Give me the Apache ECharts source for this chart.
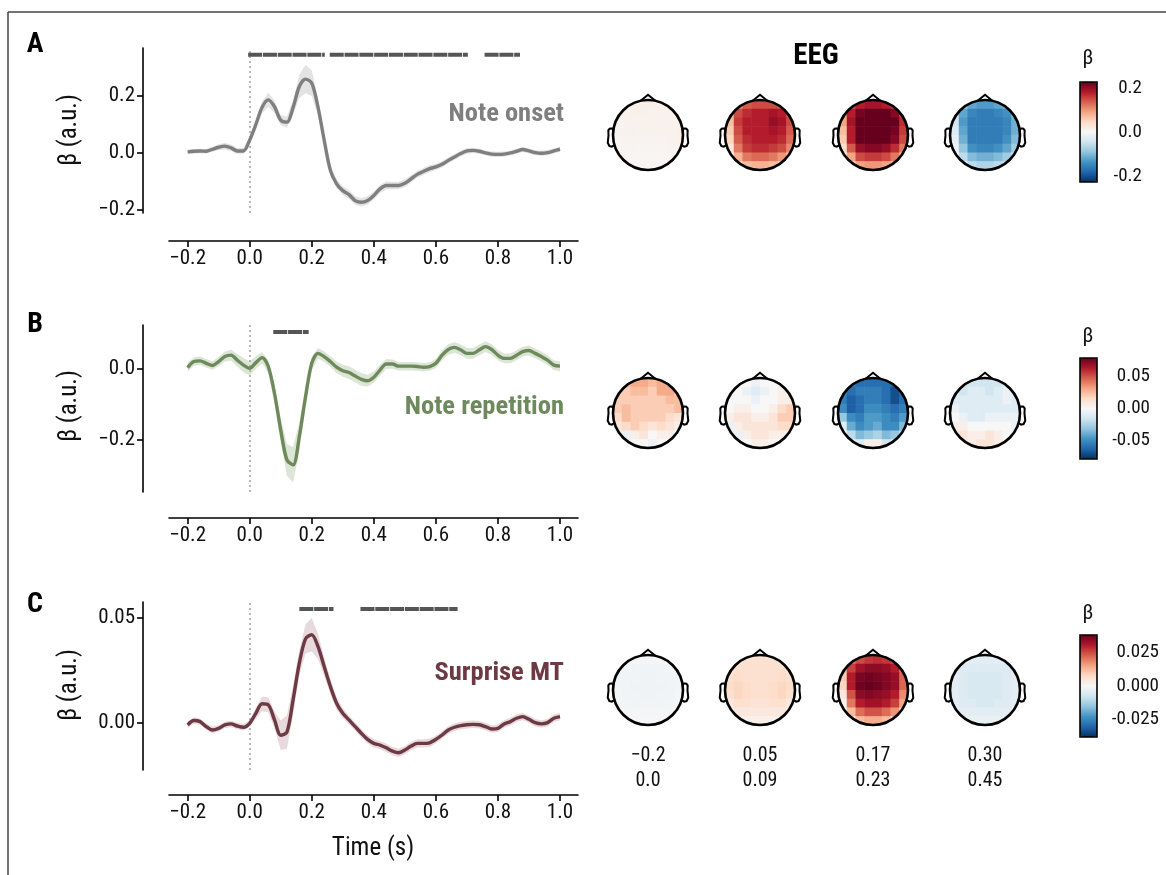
<!DOCTYPE html>
<html><head><meta charset="utf-8">
<script src="https://cdn.jsdelivr.net/npm/echarts@6/dist/echarts.min.js"></script>
<style>html,body{margin:0;padding:0;background:#fff}#c{width:1166px;height:875px}</style>
</head><body><div id="c"></div>
<script>
const FONT = "'Roboto Condensed','Liberation Sans Narrow','DejaVu Sans Condensed',Roboto,sans-serif";

// ---------- time courses ----------
const times = [-0.2,-0.18,-0.16,-0.14,-0.12,-0.1,-0.08,-0.06,-0.04,-0.02,
  0,0.02,0.04,0.06,0.08,0.1,0.12,0.14,0.16,0.18,
  0.2,0.22,0.24,0.26,0.28,0.3,0.32,0.34,0.36,0.38,
  0.4,0.42,0.44,0.46,0.48,0.5,0.52,0.54,0.56,0.58,
  0.6,0.62,0.64,0.66,0.68,0.7,0.72,0.74,0.76,0.78,
  0.8,0.82,0.84,0.86,0.88,0.9,0.92,0.94,0.96,0.98,1.0];
const xTicks = [-0.2,0,0.2,0.4,0.6,0.8,1.0];

const onsetMean = [.004,.006,.007,.006,.013,.020,.024,.018,.007,.007,
  .045,.100,.160,.186,.162,.115,.108,.160,.233,.259,
  .245,.162,.045,-.061,-.108,-.132,-.146,-.167,-.173,-.167,
  -.149,-.126,-.114,-.114,-.114,-.106,-.091,-.075,-.065,-.055,
  -.049,-.040,-.026,-.014,-.002,.007,.009,.006,.000,-.004,
  -.005,-.004,.000,.006,.012,.007,.001,-.001,.001,.007,.013];
const onsetErr = [.008,.008,.008,.008,.009,.010,.012,.012,.010,.010,
  .012,.015,.020,.025,.022,.018,.020,.025,.040,.050,
  .045,.030,.020,.018,.016,.015,.015,.015,.015,.015,
  .014,.014,.014,.013,.013,.013,.013,.012,.012,.012,
  .011,.011,.010,.010,.010,.010,.009,.009,.009,.009,
  .009,.009,.009,.009,.009,.009,.009,.009,.009,.009,.009];
const onsetSig = [[-0.005,0.242],[0.258,0.703],[0.757,0.871]];
const onsetYTicks = [-0.2,0,0.2];

const repMean = [.004,.021,.023,.016,.010,.021,.035,.039,.025,.011,
  .002,.018,.032,.007,-.069,-.172,-.256,-.270,-.190,-.078,
  .016,.044,.035,.021,.005,-.005,-.010,-.020,-.029,-.033,
  -.023,-.003,.014,.014,.008,.008,.008,.007,.005,.007,
  .016,.039,.055,.061,.054,.044,.044,.054,.063,.055,
  .039,.030,.030,.039,.049,.052,.044,.035,.025,.011,.008];
const repErr = [.012,.012,.012,.012,.012,.013,.014,.015,.018,.020,
  .020,.018,.016,.018,.025,.035,.045,.050,.040,.025,
  .018,.015,.015,.015,.016,.017,.018,.018,.018,.017,
  .016,.015,.014,.013,.012,.012,.012,.012,.012,.012,
  .013,.014,.015,.015,.015,.015,.015,.015,.015,.015,
  .015,.014,.014,.014,.014,.014,.014,.014,.014,.014,.014];
const repSig = [[0.076,0.19]];
const repYTicks = [-0.2,0];

const surMean = [-.0011,.0010,.0005,-.0019,-.0035,-.0027,-.0011,-.0006,-.0016,-.0022,
  -.0003,.0045,.0090,.0085,.0013,-.0060,-.0045,.0110,.0284,.0400,
  .0420,.0364,.0268,.0173,.0093,.0045,.0013,-.0019,-.0051,-.0080,
  -.0099,-.0107,-.0120,-.0136,-.0144,-.0131,-.0112,-.0099,-.0099,-.0096,
  -.0080,-.0059,-.0035,-.0022,-.0014,-.0010,-.0008,-.0010,-.0019,-.0030,
  -.0027,-.0006,.0005,.0021,.0029,.0016,.0000,-.0006,.0000,.0021,.0029];
const surErr = [.0015,.0015,.0015,.0015,.0015,.0015,.0015,.0015,.0015,.0015,
  .0015,.0025,.0035,.0035,.0040,.0070,.0080,.0070,.0060,.0070,
  .0080,.0060,.0045,.0035,.0030,.0025,.0020,.0020,.0020,.0020,
  .0020,.0020,.0020,.0020,.0020,.0020,.0020,.0020,.0020,.0020,
  .0018,.0018,.0018,.0018,.0018,.0018,.0018,.0018,.0018,.0018,
  .0018,.0018,.0018,.0018,.0018,.0018,.0018,.0018,.0018,.0018,.0018];
const surSig = [[0.16,0.27],[0.357,0.67]];
const surYTicks = [0,0.05];

// ---------- topographies (8x8, front row first) ----------
const topoA1 = [[.010,.010,.012,.012,.012,.010,.010,.008],[.008,.010,.012,.012,.010,.010,.010,.008],[.006,.008,.010,.010,.010,.008,.010,.010],[.006,.008,.008,.008,.008,.008,.010,.012],[.005,.006,.006,.006,.006,.006,.008,.010],[.004,.005,.005,.005,.005,.005,.006,.006],[.003,.004,.004,.004,.004,.004,.004,.004],[.002,.003,.003,.003,.003,.003,.003,.003]];
const topoA2 = [[.07,.11,.14,.15,.15,.15,.14,.10],[.08,.15,.17,.18,.18,.19,.18,.14],[.07,.16,.18,.18,.18,.20,.19,.15],[.06,.15,.18,.18,.18,.19,.18,.14],[.05,.14,.17,.18,.18,.18,.17,.13],[.03,.12,.16,.17,.17,.16,.15,.11],[.02,.08,.12,.13,.13,.12,.10,.07],[.01,.04,.07,.08,.08,.07,.05,.03]];
const topoA3 = [[.10,.15,.18,.19,.19,.18,.16,.13],[.10,.18,.22,.23,.23,.23,.21,.16],[.09,.19,.24,.25,.25,.25,.23,.17],[.07,.18,.24,.25,.25,.24,.22,.16],[.06,.18,.23,.24,.24,.23,.21,.15],[.04,.14,.20,.21,.21,.20,.17,.12],[.02,.09,.15,.16,.16,.15,.12,.08],[.01,.05,.09,.10,.10,.09,.07,.04]];
const topoA4 = [[-.05,-.09,-.12,-.13,-.13,-.12,-.11,-.08],[-.05,-.12,-.15,-.16,-.16,-.15,-.14,-.10],[-.04,-.13,-.16,-.16,-.16,-.16,-.15,-.11],[-.03,-.12,-.16,-.16,-.16,-.16,-.15,-.11],[-.02,-.11,-.16,-.16,-.16,-.16,-.14,-.10],[-.01,-.09,-.14,-.15,-.15,-.14,-.12,-.08],[.00,-.06,-.10,-.11,-.11,-.10,-.08,-.05],[.00,-.03,-.06,-.07,-.07,-.06,-.04,-.02]];
const topoB1 = [[.02,.025,.03,.03,.025,.03,.03,.02],[.02,.02,.025,.025,.02,.03,.03,.02],[.02,.02,.02,.02,.02,.02,.025,.025],[.02,.025,.02,.02,.02,.02,.02,.025],[.015,.025,.02,.02,.02,.02,.015,.01],[.01,.015,.02,.015,.01,.015,.01,.005],[-.01,-.005,.005,.01,.0,.005,.005,.0],[-.01,-.01,.0,.0,-.005,.0,.0,.0]];
const topoB2 = [[.0,.0,.0,-.005,.0,.0,.0,.0],[.0,.0,-.005,-.01,-.005,.0,.005,.0],[.0,.0,.0,-.005,.0,.0,.005,.005],[.0,.005,.005,.0,.0,.005,.015,.02],[.005,.01,.01,.005,.005,.01,.02,.02],[-.005,.005,.01,.01,.01,.01,.015,.015],[-.01,-.005,.005,.01,.01,.005,.005,.005],[-.005,-.005,.0,.005,.005,.0,.0,.0]];
const topoB3 = [[-.05,-.055,-.06,-.06,-.06,-.06,-.06,-.05],[-.05,-.06,-.055,-.055,-.055,-.06,-.07,-.06],[-.055,-.065,-.06,-.055,-.055,-.06,-.07,-.06],[-.05,-.065,-.06,-.05,-.05,-.055,-.06,-.055],[-.03,-.05,-.055,-.045,-.045,-.05,-.055,-.045],[-.01,-.04,-.05,-.045,-.04,-.05,-.05,-.035],[.0,-.02,-.035,-.03,-.025,-.035,-.03,-.02],[.0,-.005,-.01,.005,.005,-.015,-.015,-.01]];
const topoB4 = [[-.01,-.015,-.015,-.015,-.015,-.015,-.01,-.01],[-.01,-.015,-.01,-.01,-.015,-.01,-.005,-.01],[-.01,-.01,-.01,-.01,-.01,-.01,-.005,-.01],[-.005,-.01,-.01,-.01,-.01,-.01,-.01,-.01],[.0,-.005,-.01,-.01,-.005,-.005,-.005,-.005],[.005,.005,.0,.0,.0,.0,.0,-.005],[.01,.01,.005,.005,.01,.005,.0,.0],[.005,.01,.005,.01,.01,.005,.0,.0]];
const topoC1 = [[-.0008,-.0008,-.0008,-.0008,-.0008,-.0008,-.0008,-.0008],[-.0010,-.0010,-.0012,-.0012,-.0012,-.0012,-.0010,-.0010],[-.0010,-.0012,-.0014,-.0015,-.0015,-.0014,-.0012,-.0010],[-.0010,-.0012,-.0015,-.0016,-.0016,-.0015,-.0012,-.0010],[-.0008,-.0012,-.0014,-.0015,-.0015,-.0014,-.0012,-.0008],[-.0006,-.0010,-.0012,-.0012,-.0012,-.0012,-.0010,-.0006],[-.0004,-.0006,-.0008,-.0008,-.0008,-.0008,-.0006,-.0004],[-.0002,-.0004,-.0005,-.0005,-.0005,-.0005,-.0004,-.0002]];
const topoC2 = [[.004,.005,.006,.006,.006,.006,.005,.004],[.005,.006,.006,.006,.006,.006,.006,.005],[.006,.007,.006,.006,.006,.006,.007,.006],[.007,.008,.007,.006,.006,.007,.008,.007],[.006,.008,.007,.006,.006,.007,.008,.006],[.004,.006,.006,.005,.005,.006,.006,.004],[.002,.004,.004,.004,.004,.004,.004,.002],[.001,.002,.002,.002,.002,.002,.002,.001]];
const topoC3 = [[.012,.020,.025,.027,.028,.027,.024,.016],[.012,.026,.032,.034,.034,.033,.030,.020],[.010,.030,.036,.037,.036,.035,.033,.022],[.008,.030,.037,.038,.037,.035,.033,.022],[.004,.024,.034,.035,.034,.033,.030,.018],[.002,.020,.030,.032,.032,.030,.026,.015],[.000,.012,.021,.024,.024,.021,.017,.009],[.000,.005,.012,.014,.014,.012,.008,.003]];
const topoC4 = [[-.003,-.004,-.004,-.004,-.004,-.004,-.004,-.003],[-.004,-.005,-.005,-.005,-.005,-.005,-.005,-.004],[-.004,-.005,-.006,-.006,-.006,-.006,-.005,-.004],[-.004,-.005,-.006,-.006,-.006,-.006,-.005,-.004],[-.004,-.005,-.006,-.006,-.006,-.006,-.005,-.004],[-.004,-.005,-.005,-.006,-.006,-.005,-.005,-.004],[-.003,-.004,-.004,-.004,-.004,-.004,-.004,-.003],[-.002,-.003,-.003,-.003,-.003,-.003,-.003,-.002]];

const topoWindows = ['\u22120.2\n0.0','0.05\n0.09','0.17\n0.23','0.30\n0.45'];
const cbTicksA = [-0.2,0,0.2];
const cbTicksB = [-0.05,0,0.05];
const cbTicksC = [-0.025,0,0.025];

const RDBU_R = ['#053061','#2166ac','#4393c3','#92c5de','#d1e5f0','#f7f7f7','#fddbc7','#f4a582','#d6604d','#b2182b','#67001f'];

// ---------- layout ----------
const rows = [
  {label:'Note onset', color:'#7f7f7f', band:'#e3e3e3', mean:onsetMean, err:onsetErr, sig:onsetSig, yTicks:onsetYTicks, dec:1,
   ymin:-0.2105, ymax:0.368, top:48, height:165, xOff:28, sigY:0.344, labelY:114, letter:'A', letterY:45, ylabY:130,
   topos:[topoA1,topoA2,topoA3,topoA4], vmax:0.228, cbTicks:cbTicksA, cbDec:1, headY:135, cbTop:82, cbH:100, betaY:59},
  {label:'Note repetition', color:'#6e8a5c', band:'#dce6d6', mean:repMean, err:repErr, sig:repSig, yTicks:repYTicks, dec:1,
   ymin:-0.3465, ymax:0.124, top:325, height:167, xOff:26, sigY:0.104, labelY:407, letter:'B', letterY:325, ylabY:406,
   topos:[topoB1,topoB2,topoB3,topoB4], vmax:0.079, cbTicks:cbTicksB, cbDec:2, headY:413, cbTop:358, cbH:101, betaY:337},
  {label:'Surprise MT', color:'#6d3944', band:'#e8d9dc', mean:surMean, err:surErr, sig:surSig, yTicks:surYTicks, dec:2,
   ymin:-0.0226, ymax:0.0576, top:602, height:168, xOff:25, sigY:0.0543, labelY:673, letter:'C', letterY:605, ylabY:685,
   topos:[topoC1,topoC2,topoC3,topoC4], vmax:0.0378, cbTicks:cbTicksC, cbDec:3, headY:690, cbTop:635, cbH:102, betaY:614}
];
const headX = [648, 760, 873, 985];
const HR = 35;
const N = 8;

const fmtMinus = (v, d) => (v < 0 ? '\u2212' : '') + Math.abs(v).toFixed(d);

const grid = [], xAxis = [], yAxis = [], series = [], visualMap = [], graphic = [];

rows.forEach((R, ri) => {
  // line plot grid
  const gi = grid.length;
  grid.push({left:169, top:R.top, width:409, height:R.height});
  xAxis.push({type:'value', gridIndex:gi, min:-0.26, max:1.058, offset:R.xOff,
    axisLine:{show:true, onZero:false, lineStyle:{color:'#000', width:1.6}},
    axisTick:{show:true, customValues:xTicks, length:6, lineStyle:{color:'#000', width:1.6}},
    axisLabel:{customValues:xTicks, formatter:v => fmtMinus(v,1), fontFamily:FONT, fontSize:21, color:'#111', margin:7},
    splitLine:{show:false}});
  yAxis.push({type:'value', gridIndex:gi, min:R.ymin, max:R.ymax, offset:26,
    axisLine:{show:true, onZero:false, lineStyle:{color:'#000', width:1.6}},
    axisTick:{show:true, customValues:R.yTicks, length:6, lineStyle:{color:'#000', width:1.6}},
    axisLabel:{customValues:R.yTicks, formatter:v => fmtMinus(v,R.dec), fontFamily:FONT, fontSize:21, color:'#111', margin:8},
    splitLine:{show:false}});
  // CI band
  series.push({type:'custom', xAxisIndex:gi, yAxisIndex:gi, z:1, silent:true,
    data: times.map((t,k) => [t, R.mean[k]-R.err[k], R.mean[k]+R.err[k]]),
    renderItem: (params, api) => {
      if (params.dataIndexInside !== 0) return null;
      const n = params.dataInsideLength, up = [], dn = [];
      for (let k = 0; k < n; k++) {
        const t = api.value(0, k);
        up.push(api.coord([t, api.value(2, k)]));
        dn.push(api.coord([t, api.value(1, k)]));
      }
      return {type:'polygon', shape:{points: up.concat(dn.reverse())}, style:{fill:R.band}};
    }});
  // mean line
  series.push({type:'line', xAxisIndex:gi, yAxisIndex:gi, z:3, symbol:'none', smooth:0.3, silent:true,
    data: times.map((t,k) => [t, R.mean[k]]),
    lineStyle:{color:R.color, width:3.4},
    markLine:{silent:true, symbol:'none', label:{show:false}, z:2,
      lineStyle:{type:[2,3], color:'#a8a8a8', width:1.6}, data:[{xAxis:0}]}});
  // significance bars
  series.push({type:'custom', xAxisIndex:gi, yAxisIndex:gi, z:4, silent:true,
    data: R.sig.map(s => [s[0], s[1]]),
    renderItem: (params, api) => {
      const p0 = api.coord([api.value(0), R.sigY]), p1 = api.coord([api.value(1), R.sigY]);
      return {type:'line', shape:{x1:p0[0], y1:p0[1], x2:p1[0], y2:p1[1]},
        style:{stroke:'#555', lineWidth:4, lineDash:[14,0.8]}};
    }});

  // topographies
  const cellSeries = [];
  R.topos.forEach((topo, k) => {
    const tg = grid.length;
    grid.push({left:headX[k]-HR, top:R.headY-HR, width:2*HR, height:2*HR});
    xAxis.push({type:'value', gridIndex:tg, min:0, max:N, show:false});
    yAxis.push({type:'value', gridIndex:tg, min:0, max:N, inverse:true, show:false});
    const cells = [];
    topo.forEach((row, r) => row.forEach((v, c) => {
      const dx = Math.max(Math.abs(c+0.5-N/2)-0.5, 0), dy = Math.max(Math.abs(r+0.5-N/2)-0.5, 0);
      if (dx*dx + dy*dy < (N/2)*(N/2)) cells.push([c+0.5, r+0.5, v]);
    }));
    cellSeries.push(series.length);
    series.push({type:'custom', xAxisIndex:tg, yAxisIndex:tg, z:2, silent:true, data:cells,
      encode:{x:0, y:1},
      renderItem: (params, api) => {
        const x = api.value(0), y = api.value(1);
        const p0 = api.coord([x-0.5, y-0.5]), p1 = api.coord([x+0.5, y+0.5]);
        return {type:'rect', shape:{x:Math.min(p0[0],p1[0]), y:Math.min(p0[1],p1[1]),
          width:Math.abs(p1[0]-p0[0])+0.6, height:Math.abs(p1[1]-p0[1])+0.6},
          style:{fill:api.visual('color')}};
      }});
    // head outline
    series.push({type:'custom', xAxisIndex:tg, yAxisIndex:tg, z:5, silent:true, data:[[N/2, N/2]],
      renderItem: (params, api) => {
        const c = api.coord([api.value(0), api.value(1)]);
        const r = api.size([N/2, N/2])[0];
        const cx = c[0], cy = c[1];
        const earX = [.497,.510,.518,.5299,.5419,.54,.547,.532,.510,.489];
        const earY = [.0555,.0775,.0783,.0746,.0555,-.0055,-.0932,-.1313,-.1384,-.1199];
        const ex2 = e => (0.5 + (e - 0.5) * 1.6) * 2 * r;
        const earL = earX.map((ex,i) => [cx - ex2(ex), cy - earY[i]*2*r*1.2]);
        const earR = earX.map((ex,i) => [cx + ex2(ex), cy - earY[i]*2*r*1.2]);
        const ndx = 0.2094*r, ndy = 0.978*r;
        const ls = {stroke:'#000', lineWidth:2, fill:null};
        return {type:'group', children:[
          {type:'circle', shape:{cx, cy, r:r+9.5}, style:{fill:null, stroke:'#fff', lineWidth:18}},
          {type:'polyline', shape:{points:earL}, style:ls},
          {type:'polyline', shape:{points:earR}, style:ls},
          {type:'polyline', shape:{points:[[cx-ndx, cy-ndy],[cx, cy-1.15*r],[cx+ndx, cy-ndy]]}, style:ls},
          {type:'circle', shape:{cx, cy, r}, style:{fill:null, stroke:'#000', lineWidth:2.6}}
        ]};
      }});
  });

  // colorbar (visualMap) + its axis
  visualMap.push({type:'continuous', seriesIndex:cellSeries, dimension:2, min:-R.vmax, max:R.vmax,
    calculable:false, hoverLink:false, show:true, orient:'vertical', left:1080, top:R.cbTop,
    itemWidth:17, itemHeight:R.cbH, padding:0, inRange:{color:RDBU_R}});
  const cg = grid.length;
  grid.push({left:1080, top:R.cbTop, width:17, height:R.cbH});
  xAxis.push({type:'value', gridIndex:cg, show:false, min:0, max:1});
  yAxis.push({type:'value', gridIndex:cg, position:'right', min:-R.vmax, max:R.vmax,
    axisLine:{show:false}, splitLine:{show:false},
    axisTick:{show:true, customValues:R.cbTicks, length:7, lineStyle:{color:'#000', width:1.6}},
    axisLabel:{customValues:R.cbTicks, formatter:v => (v < 0 ? '-' : '') + Math.abs(v).toFixed(R.cbDec),
      fontFamily:FONT, fontSize:19, color:'#111', align:'right', margin: R.cbDec === 1 ? 45 : (R.cbDec === 2 ? 53 : 62)}});
  graphic.push({type:'rect', z:100, shape:{x:1080, y:R.cbTop, width:17, height:R.cbH},
    style:{fill:null, stroke:'#000', lineWidth:1.6}});
  graphic.push({type:'text', z:100, x:1088, y:R.betaY,
    style:{text:'\u03b2', font:'21px ' + FONT, fill:'#111', textAlign:'center', textVerticalAlign:'middle'}});

  // texts
  graphic.push({type:'text', z:100, x:35, y:R.letterY,
    style:{text:R.letter, font:'bold 28px ' + FONT, fill:'#000', textAlign:'center', textVerticalAlign:'middle'}});
  graphic.push({type:'text', z:100, x:70, y:R.ylabY, rotation:Math.PI/2,
    style:{text:'\u03b2 (a.u.)', font:'25px ' + FONT, fill:'#111', textAlign:'center', textVerticalAlign:'middle'}});
  graphic.push({type:'text', z:100, x:564, y:R.labelY,
    style:{text:R.label, font:'bold 26.5px ' + FONT, fill:R.color, textAlign:'right', textVerticalAlign:'middle'}});
});

// time windows under the bottom row
topoWindows.forEach((w, k) => {
  graphic.push({type:'text', z:100, x:headX[k], y:768,
    style:{text:w, font:'20px ' + FONT, fill:'#111', textAlign:'center', textVerticalAlign:'middle', lineHeight:25}});
});
graphic.push({type:'text', z:100, x:816, y:57,
  style:{text:'EEG', font:'bold 29px ' + FONT, fill:'#000', textAlign:'center', textVerticalAlign:'middle'}});
graphic.push({type:'text', z:100, x:373, y:849,
  style:{text:'Time (s)', font:'25px ' + FONT, fill:'#111', textAlign:'center', textVerticalAlign:'middle'}});
// frame
graphic.push({type:'line', z:100, shape:{x1:8, y1:12, x2:1166, y2:12}, style:{stroke:'#444', lineWidth:1.5}});
graphic.push({type:'line', z:100, shape:{x1:8, y1:12, x2:8, y2:875}, style:{stroke:'#444', lineWidth:1.5}});

const chart = echarts.init(document.getElementById('c'), null, {renderer:'canvas'});
chart.setOption({animation:false, backgroundColor:'#fff', grid, xAxis, yAxis, series, visualMap, graphic});
</script>
</body></html>
